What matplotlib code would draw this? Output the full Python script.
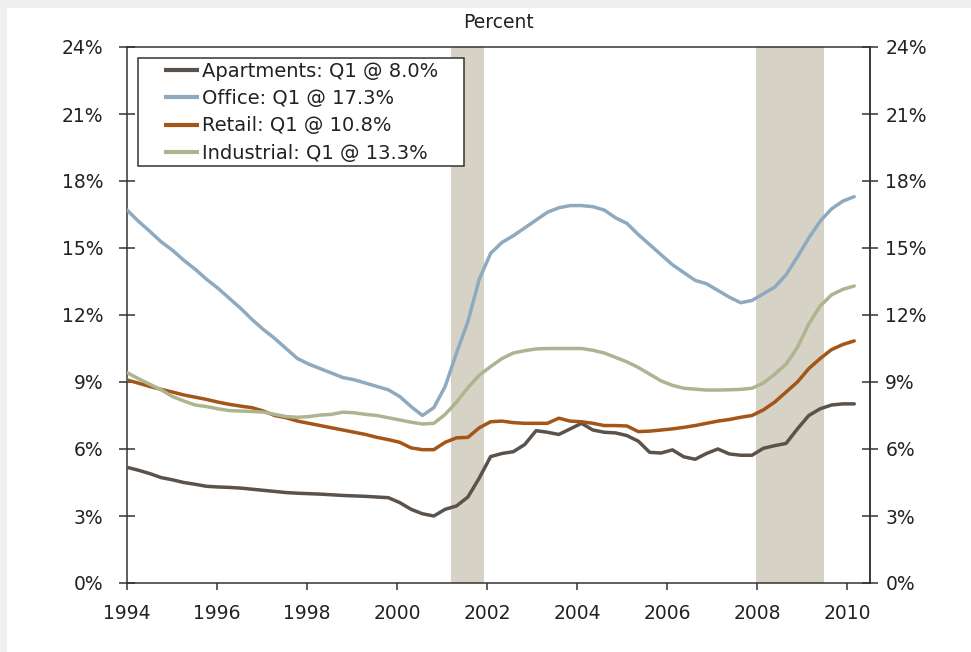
import numpy as np
import matplotlib
matplotlib.use("Agg")
import matplotlib.pyplot as plt
from matplotlib.patches import Rectangle
from matplotlib.legend_handler import HandlerLine2D

# Quarterly vacancy rates, 1994 Q1 through 2010 Q1 (percent)
quarters = np.linspace(1994.0, 2010.15, 65)

apartments = [5.18, 5.05, 4.90, 4.72, 4.62, 4.50, 4.42, 4.33, 4.30, 4.28, 4.25, 4.20, 4.15,
              4.10, 4.05, 4.02, 4.00, 3.98, 3.95, 3.92, 3.90, 3.88, 3.85, 3.82, 3.60, 3.30,
              3.10, 3.00, 3.30, 3.45, 3.85, 4.70, 5.66, 5.80, 5.88, 6.20, 6.82, 6.75, 6.65,
              6.90, 7.15, 6.85, 6.75, 6.72, 6.60, 6.35, 5.85, 5.82, 5.96, 5.65, 5.54, 5.80,
              6.00, 5.78, 5.72, 5.72, 6.03, 6.15, 6.25, 6.90, 7.50, 7.80, 7.97, 8.02, 8.02]

office = [16.70, 16.20, 15.75, 15.28, 14.90, 14.45, 14.05, 13.60, 13.20, 12.75, 12.30, 11.80,
          11.35, 10.95, 10.50, 10.05, 9.80, 9.60, 9.40, 9.20, 9.10, 8.95, 8.80, 8.65, 8.35,
          7.90, 7.50, 7.85, 8.80, 10.30, 11.70, 13.60, 14.76, 15.25, 15.55, 15.90, 16.25,
          16.60, 16.80, 16.90, 16.90, 16.85, 16.70, 16.35, 16.10, 15.60, 15.15, 14.70, 14.25,
          13.90, 13.55, 13.40, 13.10, 12.80, 12.55, 12.65, 12.95, 13.25, 13.80, 14.60, 15.45,
          16.20, 16.75, 17.10, 17.30]

retail = [9.09, 8.95, 8.80, 8.67, 8.55, 8.42, 8.32, 8.22, 8.10, 8.00, 7.92, 7.85, 7.70, 7.50,
          7.40, 7.25, 7.15, 7.05, 6.95, 6.85, 6.75, 6.65, 6.52, 6.42, 6.30, 6.05, 5.97, 5.97,
          6.30, 6.50, 6.52, 6.95, 7.22, 7.25, 7.18, 7.15, 7.15, 7.15, 7.38, 7.25, 7.22, 7.15,
          7.05, 7.05, 7.03, 6.78, 6.80, 6.85, 6.90, 6.97, 7.05, 7.15, 7.25, 7.32, 7.42, 7.50,
          7.75, 8.10, 8.55, 9.00, 9.60, 10.05, 10.45, 10.68, 10.84]

industrial = [9.42, 9.15, 8.90, 8.65, 8.35, 8.15, 7.97, 7.90, 7.80, 7.72, 7.70, 7.68, 7.65,
              7.55, 7.45, 7.42, 7.45, 7.52, 7.55, 7.65, 7.62, 7.55, 7.50, 7.40, 7.30, 7.20,
              7.12, 7.15, 7.55, 8.10, 8.75, 9.30, 9.69, 10.05, 10.30, 10.40, 10.48, 10.50,
              10.50, 10.50, 10.50, 10.42, 10.30, 10.10, 9.90, 9.65, 9.35, 9.05, 8.85, 8.72,
              8.68, 8.64, 8.64, 8.65, 8.67, 8.72, 8.95, 9.35, 9.80, 10.55, 11.60, 12.40,
              12.90, 13.15, 13.30]

series_labels = ["Apartments: Q1 @ 8.0%", "Office: Q1 @ 17.3%",
                 "Retail: Q1 @ 10.8%", "Industrial: Q1 @ 13.3%"]
series_colors = ["#5a524b", "#8eaac0", "#a35618", "#adb590"]

# Recession periods (fractional years)
recessions = [(2001.2, 2001.92), (2007.96, 2009.47)]

year_ticks = [1994, 1996, 1998, 2000, 2002, 2004, 2006, 2008, 2010]
pct_ticks = [0, 3, 6, 9, 12, 15, 18, 21, 24]

FS = 13.5
LEG_FS = 14
TXT = "#222222"
AXC = "#333333"

plt.rcParams['font.family'] = ['DejaVu Sans']
fig = plt.figure(figsize=(9.71, 6.52), dpi=100)
fig.patch.set_facecolor("white")

# light grey page edges
fig.patches.append(Rectangle((0, 1 - 8 / 652), 1, 8 / 652, transform=fig.transFigure,
                             facecolor="#efefef", edgecolor="none", zorder=0))
fig.patches.append(Rectangle((0, 0), 7 / 971, 1, transform=fig.transFigure,
                             facecolor="#efefef", edgecolor="none", zorder=0))

ax = fig.add_axes([127 / 971, 1 - 583 / 652, (870 - 127) / 971, (583 - 47) / 652])

for start, end in recessions:
    ax.axvspan(start, end, color="#d6d2c5", lw=0, zorder=1)

for vals, lab, col in zip([apartments, office, retail, industrial], series_labels, series_colors):
    ax.plot(quarters, vals, color=col, lw=2.5, label=lab, zorder=3, solid_capstyle="round")

ax.set_xlim(1994, 2010.5)
ax.set_ylim(0, 24)
ax.set_xticks(year_ticks)
ax.set_xticklabels([str(y) for y in year_ticks])
ax.set_yticks(pct_ticks)
ax.set_yticklabels([f"{p}%" for p in pct_ticks])

for s in ax.spines.values():
    s.set_color(AXC)
    s.set_linewidth(1.1)

ax.tick_params(axis="y", direction="inout", length=12, width=1.1, color=AXC,
               labelsize=FS, labelcolor=TXT, pad=11, left=True, right=False)
ax.tick_params(axis="x", direction="out", length=5, width=1.1, color=AXC,
               labelsize=FS, labelcolor=TXT, pad=10)

# right-hand percent scale
sec = ax.secondary_yaxis("right")
sec.set_yticks(pct_ticks)
sec.set_yticklabels([f"{p}%" for p in pct_ticks])
sec.spines["right"].set_color(AXC)
sec.spines["right"].set_linewidth(1.1)
sec.tick_params(direction="inout", length=12, width=1.1, color=AXC,
                labelsize=FS, labelcolor=TXT, pad=5)

ax.set_title("Percent", fontsize=FS, color=TXT, pad=14)


class ShortLineHandler(HandlerLine2D):
    """Legend line drawn only over the right part of the handle box."""
    frac = 0.6

    def create_artists(self, legend, orig_handle, xdescent, ydescent, width, height,
                       fontsize, trans):
        artists = super().create_artists(legend, orig_handle, xdescent, ydescent,
                                         width, height, fontsize, trans)
        x0 = -xdescent + width * (1 - self.frac)
        x1 = -xdescent + width
        for a in artists:
            xd = np.asarray(a.get_xdata(), dtype=float)
            if xd.size > 1:
                a.set_xdata(np.linspace(x0, x1, xd.size))
            a.set_solid_capstyle("butt")
        return artists


leg_top = 1 - 11 / 536
leg = ax.legend(loc="upper left", bbox_to_anchor=(11 / 743, leg_top - 0.1, 326 / 743, 0.1),
                mode="expand", frameon=True, fancybox=False, framealpha=1.0,
                fontsize=LEG_FS, handlelength=2.93, handletextpad=0.15, labelspacing=0.43,
                borderpad=0.19, borderaxespad=0,
                handler_map={plt.Line2D: ShortLineHandler()})
leg.set_zorder(5)
leg.get_frame().set_facecolor("white")
leg.get_frame().set_edgecolor(AXC)
leg.get_frame().set_linewidth(1.1)
for t in leg.get_texts():
    t.set_color(TXT)
for h in leg.legend_handles:
    h.set_linewidth(3.0)

fig.savefig("out.png", dpi=100)
